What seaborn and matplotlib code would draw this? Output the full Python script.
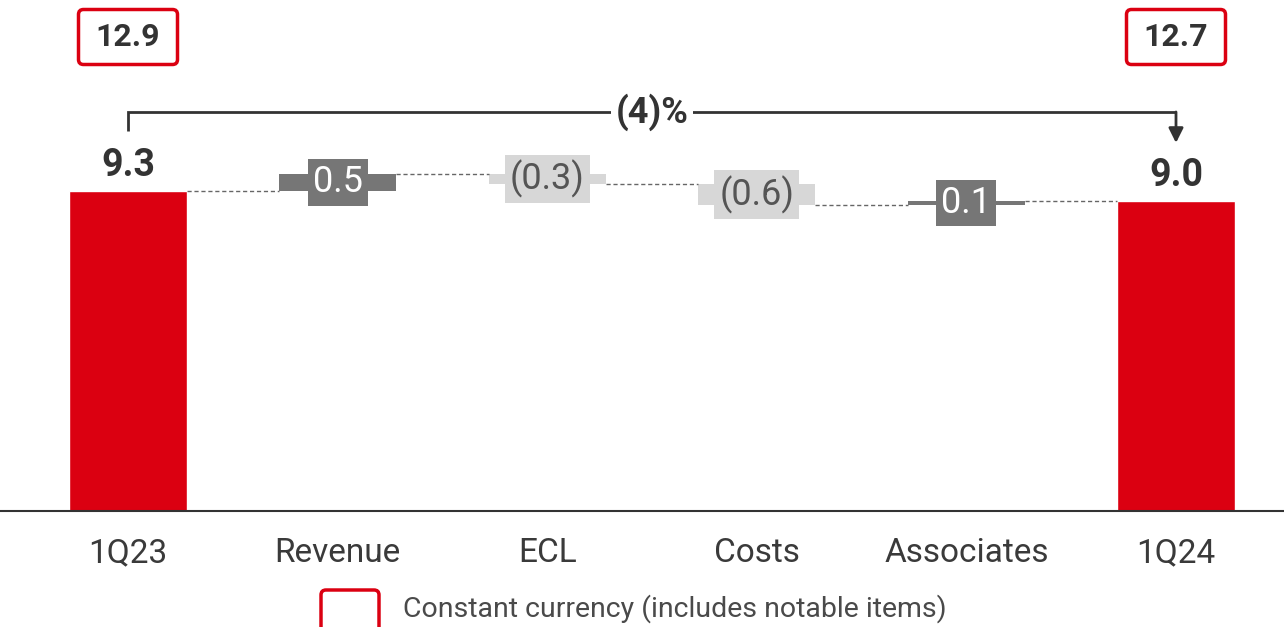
import matplotlib.pyplot as plt
import seaborn as sns
import numpy as np
import pandas as pd
from matplotlib.patches import FancyBboxPatch
from matplotlib.transforms import IdentityTransform

# chart data
categories = ['1Q23', 'Revenue', 'ECL', 'Costs', 'Associates', '1Q24']
values = [9.3, 0.5, -0.3, -0.6, 0.1, 9.0]
is_total = [True, False, False, False, False, True]
value_labels = ['9.3', '0.5', '(0.3)', '(0.6)', '0.1', '9.0']
cc_labels = ['12.9', None, None, None, None, '12.7']
change_label = '(4)%'
legend_label = 'Constant currency (includes notable items)'

RED = '#db0011'
DARK = '#767676'
LIGHT = '#d7d7d7'
INK = '#333333'

sns.set_theme(style='white')
plt.rcParams['font.family'] = ['Roboto', 'DejaVu Sans']

W, H = 1284, 627
fig = plt.figure(figsize=(W / 100, H / 100), dpi=100)
base_px = 511
unit = 34.4      # pixels per value unit
step = 209.6     # pixels between categories
ax = fig.add_axes([0, (H - base_px) / H, 1, base_px / H])

bar_w = 0.56

# totals with seaborn
df = pd.DataFrame({
    'cat': categories,
    'total': [v if t else np.nan for v, t in zip(values, is_total)],
})
sns.barplot(data=df, x='cat', y='total', order=categories, color=RED,
            saturation=1, width=bar_w, errorbar=None, ax=ax)

# floating bars
levels = []
level = 0.0
for i, (v, t) in enumerate(zip(values, is_total)):
    if t:
        level = v
        levels.append(level)
        ax.text(i, v + 26 / unit, value_labels[i], ha='center', va='center',
                fontsize=27, fontweight='bold', color=INK)
        continue
    start, end = level, level + v
    col = DARK if v > 0 else LIGHT
    ax.bar(i, end - start, bottom=start, width=bar_w, color=col, linewidth=0)
    ax.text(i, (start + end) / 2, value_labels[i], ha='center', va='center',
            fontsize=26, fontweight='normal',
            color='white' if v > 0 else '#555555',
            bbox=dict(boxstyle='square,pad=0.14', fc=col, ec='none'))
    level = end
    levels.append(level)

# dashed connectors
for i in range(len(categories) - 1):
    ax.plot([i + bar_w / 2, i + 1 - bar_w / 2], [levels[i], levels[i]],
            color='#666666', lw=1, ls=(0, (3, 2)))

ax.set_xlim(-128 / step, (W - 128) / step)
ax.set_ylim(0, base_px / unit)

# constant currency boxes
fig.canvas.draw()
for i, lab in enumerate(cc_labels):
    if lab is None:
        continue
    cx, _ = ax.transData.transform((i, 0))
    cy = H - 37
    box = FancyBboxPatch((cx - 49.5, cy - 27.5), 99, 55,
                         boxstyle='round,pad=0,rounding_size=5',
                         transform=IdentityTransform(), fc='white', ec=RED, lw=2.5)
    fig.patches.append(box)
    fig.text(cx / W, cy / H, lab, ha='center', va='center', fontsize=23,
             fontweight='bold', color=INK)

# change bracket
first, last = 0, len(categories) - 1
top = max(values[first], values[last]) + 2.3
ax.plot([first, first, last], [values[first] + 1.75, top, top], color=INK, lw=2,
        solid_capstyle='butt', solid_joinstyle='miter')
ax.annotate('', xy=(last, values[last] + 1.7), xytext=(last, top),
            arrowprops=dict(arrowstyle='-|>', mutation_scale=22, lw=2, color=INK,
                            shrinkA=0, shrinkB=0))
ax.text((first + last) / 2, top, change_label, ha='center', va='center',
        fontsize=26, fontweight='bold', color=INK,
        bbox=dict(boxstyle='square,pad=0.12', fc='white', ec='none'))

# axis styling
ax.set_xlabel('')
ax.set_ylabel('')
ax.set_yticks([])
ax.set_xticks(range(len(categories)))
ax.set_xticklabels(categories, fontsize=24, color='#3a3a3a')
ax.tick_params(axis='x', length=0, pad=19)
for s in ['top', 'left', 'right']:
    ax.spines[s].set_visible(False)
ax.spines['bottom'].set_color(INK)
ax.spines['bottom'].set_linewidth(1.5)
ax.patch.set_alpha(0)

# legend
leg_box = FancyBboxPatch((321, -12), 58, 49, boxstyle='round,pad=0,rounding_size=5',
                         transform=IdentityTransform(), fc='white', ec=RED, lw=2.5)
fig.patches.append(leg_box)
fig.text(403 / W, (H - 609) / H, legend_label, ha='left', va='center',
         fontsize=20.5, color='#4a4a4a')

fig.savefig('out.png', dpi=100)
